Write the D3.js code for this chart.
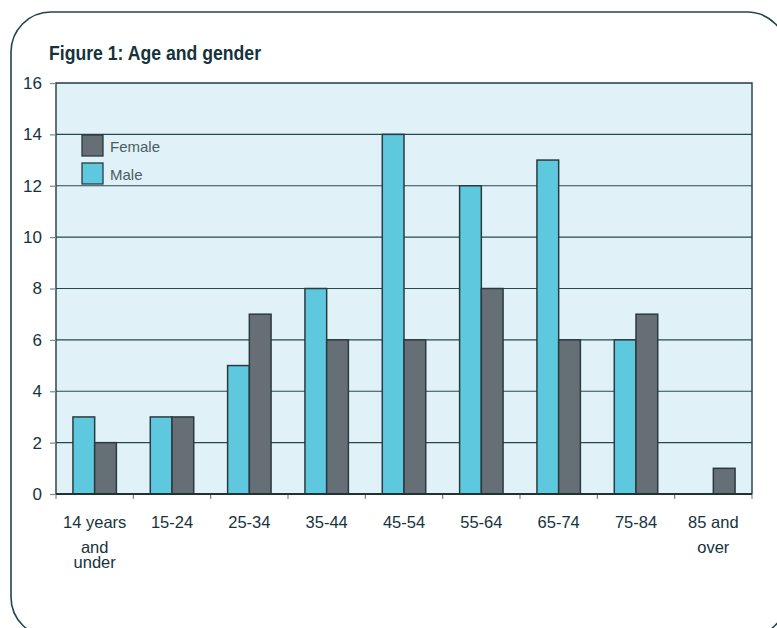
<!DOCTYPE html>
<html>
<head>
<meta charset="utf-8">
<script src="https://cdn.jsdelivr.net/npm/d3@7"></script>
<style>
  html, body { margin: 0; padding: 0; background: #ffffff; }
  svg { display: block; }
</style>
</head>
<body>
<svg id="chart" width="777" height="628"></svg>
<script>
// Age groups (each entry is the label split into its lines)
const categories = ["14 years and under", "15-24", "25-34", "35-44", "45-54", "55-64", "65-74", "75-84", "85 and over"];
const categoryLines = [["14 years", "and", "under"], ["15-24"], ["25-34"], ["35-44"], ["45-54"], ["55-64"], ["65-74"], ["75-84"], ["85 and", "over"]];
const seriesNames = ["Male", "Female"];
const maleValues = [3, 3, 5, 8, 14, 12, 13, 6, 0];
const femaleValues = [2, 3, 7, 6, 6, 8, 6, 7, 1];
const yTicks = [0, 2, 4, 6, 8, 10, 12, 14, 16];
const legendOrder = ["Female", "Male"];

const colors = { Male: "#5ec8df", Female: "#666e76" };
const ink = "#16333d";
const sans = "'Liberation Sans', Arial, Helvetica, sans-serif";

const svg = d3.select("#chart");

// Rounded frame around the whole figure
svg.append("rect")
  .attr("x", 11).attr("y", 12)
  .attr("width", 776).attr("height", 625)
  .attr("rx", 40).attr("ry", 40)
  .attr("fill", "none")
  .attr("stroke", "#23444e")
  .attr("stroke-width", 1.6);

// Condensed bold title
svg.append("text")
  .attr("x", 49).attr("y", 59.5)
  .attr("font-family", sans)
  .attr("font-weight", "bold")
  .attr("font-size", 21)
  .attr("textLength", 212)
  .attr("lengthAdjust", "spacingAndGlyphs")
  .attr("fill", ink)
  .text("Figure 1: Age and gender");

const plot = { left: 56, right: 752, top: 83, bottom: 494 };

const x = d3.scaleBand().domain(categories).range([plot.left, plot.right]).paddingInner(0).paddingOuter(0);
const xInner = d3.scaleBand().domain(seriesNames).range([0, x.bandwidth()]).paddingInner(0).paddingOuter(0.78);
const y = d3.scaleLinear().domain([0, 16]).range([plot.bottom, plot.top]);

// Plot background
svg.append("rect")
  .attr("x", plot.left).attr("y", plot.top)
  .attr("width", plot.right - plot.left).attr("height", plot.bottom - plot.top)
  .attr("fill", "#e0f2f7");

// Horizontal gridlines
svg.append("g")
  .selectAll("line")
  .data(yTicks.filter(v => v > 0 && v < 16))
  .join("line")
  .attr("x1", plot.left).attr("x2", plot.right)
  .attr("y1", d => y(d)).attr("y2", d => y(d))
  .attr("stroke", "#2a4751")
  .attr("stroke-width", 1.1);

// Bars
const rows = categories.map((c, i) => ({ category: c, Male: maleValues[i], Female: femaleValues[i] }));
const groups = svg.append("g")
  .selectAll("g")
  .data(rows)
  .join("g")
  .attr("transform", d => `translate(${x(d.category)},0)`);

groups.selectAll("rect")
  .data(d => seriesNames.map(s => ({ series: s, value: d[s] })).filter(e => e.value > 0))
  .join("rect")
  .attr("x", d => xInner(d.series))
  .attr("width", xInner.bandwidth())
  .attr("y", d => y(d.value))
  .attr("height", d => y(0) - y(d.value))
  .attr("fill", d => colors[d.series])
  .attr("stroke", "#2b3a40")
  .attr("stroke-width", 1.5);

// Plot frame: top, right, left
svg.append("path")
  .attr("d", `M${plot.left},${plot.bottom}V${plot.top}H${plot.right}V${plot.bottom}`)
  .attr("fill", "none")
  .attr("stroke", "#1f3b45")
  .attr("stroke-width", 1.4);

// Y axis
const yAxis = svg.append("g")
  .attr("transform", `translate(${plot.left},0)`)
  .call(d3.axisLeft(y).tickValues(yTicks).tickSize(6).tickPadding(8).tickFormat(d3.format("d")));
yAxis.select(".domain").remove();
yAxis.selectAll(".tick line").attr("stroke", "#7a8a90").attr("stroke-width", 1.2);
yAxis.selectAll(".tick text")
  .attr("font-family", sans)
  .attr("font-size", 17)
  .attr("fill", ink);

// X axis: ticks at the category boundaries
const boundaries = categories.map(c => x(c)).concat([plot.right]);
svg.append("g")
  .selectAll("line")
  .data(boundaries)
  .join("line")
  .attr("x1", d => d).attr("x2", d => d)
  .attr("y1", plot.bottom).attr("y2", plot.bottom + 5)
  .attr("stroke", "#7a8a90")
  .attr("stroke-width", 1.2);

svg.append("line")
  .attr("x1", plot.left).attr("x2", plot.right)
  .attr("y1", plot.bottom).attr("y2", plot.bottom)
  .attr("stroke", "#1f3334")
  .attr("stroke-width", 2);

// Category labels, one tspan per line
const lineOffsets = [0, 24.5, 39.5];
const xLabels = svg.append("g")
  .selectAll("text")
  .data(categories)
  .join("text")
  .attr("x", d => x(d) + x.bandwidth() / 2)
  .attr("y", 528)
  .attr("text-anchor", "middle")
  .attr("font-family", sans)
  .attr("font-size", 16.5)
  .attr("fill", ink);
xLabels.selectAll("tspan")
  .data((d, i) => categoryLines[i].map((t, k) => ({ t, k, cx: x(d) + x.bandwidth() / 2 })))
  .join("tspan")
  .attr("x", d => d.cx)
  .attr("y", d => 528 + lineOffsets[d.k])
  .text(d => d.t);

// Legend
const legend = svg.append("g")
  .selectAll("g")
  .data(legendOrder)
  .join("g")
  .attr("transform", (d, i) => `translate(82,${135 + i * 28})`);
legend.append("rect")
  .attr("width", 21).attr("height", 21)
  .attr("fill", d => colors[d])
  .attr("stroke", "#2b3a40")
  .attr("stroke-width", 1.3);
legend.append("text")
  .attr("x", 28).attr("y", 17)
  .attr("font-family", sans)
  .attr("font-size", 15)
  .attr("fill", "#4c5c62")
  .text(d => d);
</script>
</body>
</html>
